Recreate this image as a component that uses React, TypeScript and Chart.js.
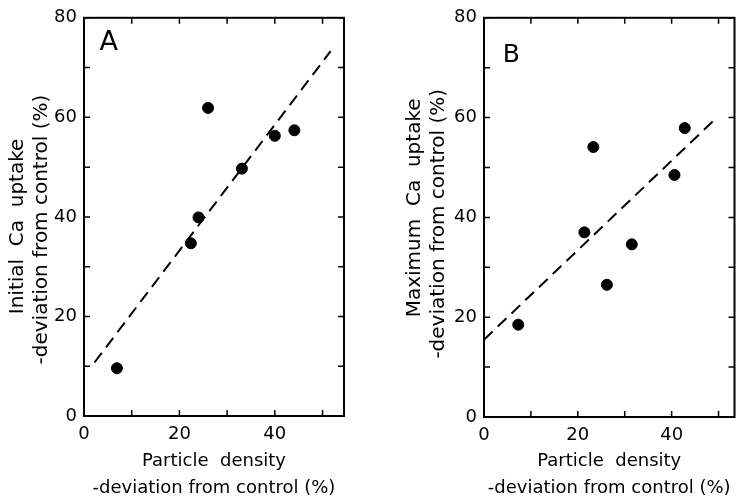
import React, { useEffect, useRef } from "react";
import { Chart, registerables } from "chart.js";

Chart.register(...registerables);

// Panel A: initial Ca uptake vs particle density
const A_DENSITY = [6.9, 22.4, 24.0, 26.0, 33.1, 40.0, 44.1];
const A_INITIAL_UPTAKE = [9.6, 34.7, 39.9, 61.9, 49.7, 56.3, 57.4];
const A_FIT_X = [2.2, 51.7];
const A_FIT_Y = [10.75, 73.3];

// Panel B: maximum Ca uptake vs particle density
const B_DENSITY = [7.3, 21.4, 23.3, 26.2, 31.5, 40.6, 42.8];
const B_MAX_UPTAKE = [18.5, 37.0, 54.1, 26.5, 34.6, 48.5, 57.9];
const B_FIT_X = [0, 49.4];
const B_FIT_Y = [15.5, 59.8];

const X_TICKS = [0, 20, 40];
const Y_TICKS = [0, 20, 40, 60, 80];
const MINOR_STEP = 10;

const X_TITLE = ["Particle  density", "-deviation from control (%)"];
const A_Y_TITLE = ["Initial  Ca  uptake   ", "-deviation from control (%)    "];
const B_Y_TITLE = ["   Maximum  Ca  uptake", "-deviation from control (%)  "];

const FONT = '"DejaVu Sans", sans-serif';

type PanelProps = {
  left: number;
  width: number;
  xs: number[];
  ys: number[];
  fitX: number[];
  fitY: number[];
  xMax: number;
  yTitle: string[];
  yTitlePad: number;
  yScaleWidth: number;
  padTop: number;
  padRight: number;
  letter: string;
  letterPos: { x: number; y: number };
  letterSize: number;
};

function Panel(p: PanelProps) {
  const ref = useRef<HTMLCanvasElement | null>(null);
  useEffect(() => {
    if (!ref.current) return;
    const framePlugin = {
      id: "frame",
      afterDatasetsDraw(chart: any) {
        const ctx = chart.ctx;
        const { left, right, top, bottom } = chart.chartArea;
        const xs = chart.scales.x;
        const ys = chart.scales.y;
        ctx.save();
        ctx.strokeStyle = "#000";
        ctx.lineWidth = 2;
        ctx.strokeRect(left, top, right - left, bottom - top);
        ctx.lineWidth = 1.5;
        const tl = 6;
        ctx.beginPath();
        for (let v = 0; v <= xs.max; v += MINOR_STEP) {
          const px = xs.getPixelForValue(v);
          ctx.moveTo(px, bottom);
          ctx.lineTo(px, bottom - tl);
          ctx.moveTo(px, top);
          ctx.lineTo(px, top + tl);
        }
        for (let v = 0; v <= ys.max; v += MINOR_STEP) {
          const py = ys.getPixelForValue(v);
          ctx.moveTo(left, py);
          ctx.lineTo(left + tl, py);
          ctx.moveTo(right, py);
          ctx.lineTo(right - tl, py);
        }
        ctx.stroke();
        ctx.fillStyle = "#000";
        ctx.font = `${p.letterSize}px ${FONT}`;
        ctx.textAlign = "center";
        ctx.textBaseline = "middle";
        ctx.fillText(
          p.letter,
          xs.getPixelForValue(p.letterPos.x),
          ys.getPixelForValue(p.letterPos.y)
        );
        ctx.restore();
      },
    };

    const chart = new Chart(ref.current, {
      type: "scatter",
      data: {
        datasets: [
          {
            label: "fit",
            data: p.fitX.map((x, i) => ({ x, y: p.fitY[i] })),
            showLine: true,
            borderColor: "#000",
            borderWidth: 2,
            borderDash: [12, 7],
            pointRadius: 0,
            fill: false,
          },
          {
            label: "data",
            data: p.xs.map((x, i) => ({ x, y: p.ys[i] })),
            backgroundColor: "#000",
            borderColor: "#000",
            pointRadius: 5.5,
            pointHoverRadius: 5.5,
          },
        ],
      },
      options: {
        animation: false,
        responsive: true,
        maintainAspectRatio: false,
        layout: { padding: { top: p.padTop, right: p.padRight, left: 0, bottom: 0 } },
        plugins: { legend: { display: false }, tooltip: { enabled: false } },
        scales: {
          x: {
            type: "linear",
            min: 0,
            max: p.xMax,
            grid: { display: false, drawTicks: false },
            border: { display: false },
            afterBuildTicks: (s: any) => {
              s.ticks = X_TICKS.map((v) => ({ value: v }));
            },
            afterFit: (s: any) => {
              s.height = 499 - 416 - (p.padTop - 13);
            },
            ticks: {
              color: "#000",
              padding: 8,
              maxRotation: 0,
              font: { family: FONT, size: 18 },
            },
            title: {
              display: true,
              text: X_TITLE,
              color: "#000",
              font: { family: FONT, size: 18, lineHeight: 1.5 },
              padding: { top: 0, bottom: -3 },
            },
          },
          y: {
            type: "linear",
            min: 0,
            max: 80,
            grid: { display: false, drawTicks: false },
            border: { display: false },
            afterBuildTicks: (s: any) => {
              s.ticks = Y_TICKS.map((v) => ({ value: v }));
            },
            afterFit: (s: any) => {
              s.width = p.yScaleWidth;
            },
            ticks: {
              color: "#000",
              padding: 7,
              font: { family: FONT, size: 18 },
            },
            title: {
              display: true,
              text: p.yTitle,
              color: "#000",
              font: { family: FONT, size: 20, lineHeight: 1.2 },
              padding: { top: p.yTitlePad, bottom: 0 },
            },
          },
        },
      },
      plugins: [framePlugin],
    } as any);
    return () => chart.destroy();
  }, []);
  return (
    <div
      style={{
        position: "absolute",
        left: p.left,
        top: 0,
        width: p.width,
        height: 499,
      }}
    >
      <canvas ref={ref} />
    </div>
  );
}

export default function App() {
  return (
    <div
      style={{
        position: "absolute",
        left: 0,
        top: 0,
        width: 741,
        height: 499,
        background: "#fff",
        overflow: "hidden",
      }}
    >
      <Panel
        left={0}
        width={360}
        xs={A_DENSITY}
        ys={A_INITIAL_UPTAKE}
        fitX={A_FIT_X}
        fitY={A_FIT_Y}
        xMax={54.5}
        yTitle={A_Y_TITLE}
        yTitlePad={6}
        yScaleWidth={84}
        padTop={13}
        padRight={16}
        letter="A"
        letterPos={{ x: 5.2, y: 74.9 }}
        letterSize={27}
      />
      <Panel
        left={370}
        width={371}
        xs={B_DENSITY}
        ys={B_MAX_UPTAKE}
        fitX={B_FIT_X}
        fitY={B_FIT_Y}
        xMax={53.4}
        yTitle={B_Y_TITLE}
        yTitlePad={33}
        yScaleWidth={114}
        padTop={14}
        padRight={1}
        letter="B"
        letterPos={{ x: 5.8, y: 72.4 }}
        letterSize={25}
      />
    </div>
  );
}
